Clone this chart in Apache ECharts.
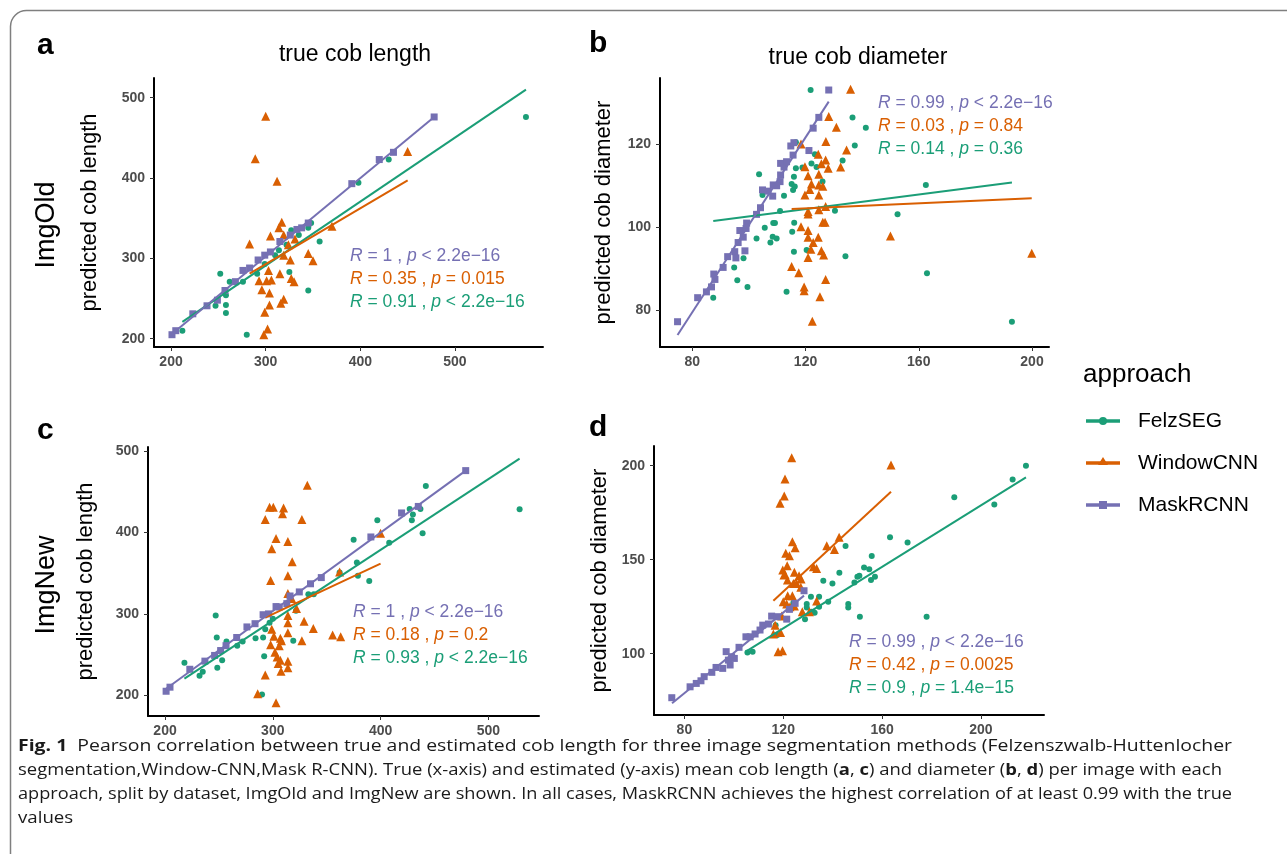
<!DOCTYPE html>
<html><head><meta charset="utf-8">
<script src="https://cdn.jsdelivr.net/npm/echarts@6/dist/echarts.min.js"></script>
<style>html,body{margin:0;padding:0;background:#fff}#main{width:1287px;height:854px}</style>
</head><body><div id="main"></div>
<script>
// ---------------- data ----------------
const approaches = ['FelzSEG', 'WindowCNN', 'MaskRCNN'];
const statOrder = ['MaskRCNN', 'WindowCNN', 'FelzSEG'];
const xTicksLength = [200, 300, 400, 500];
const yTicksLength = [200, 300, 400, 500];
const xTicksDiam = [80, 120, 160, 200];
const yTicksDiamOld = [80, 100, 120];
const yTicksDiamNew = [100, 150, 200];

// panel a: ImgOld, cob length
const a_felz = [[212,210],[280,205],[247,241],[252,281],[258,254],[258,232],[258,242],[262,271],[276,271],[291,281],[299,293],[310,304],[314,310],[325,283],[327,335],[335,329],[348,344],[345,338],[357,321],[345,260],[398,394],[430,423],[575,476],[322,317]];
const a_win = [[300,477],[289,424],[312,396],[450,433],[283,318],[317,345],[314,338],[305,328],[319,329],[331,324],[370,340],[345,306],[350,297],[326,298],[319,304],[303,285],[301,272],[306,273],[315,281],[293,272],[327,275],[330,271],[296,261],[304,257],[319,249],[316,244],[304,242],[299,233],[302,212],[298,205],[324,317]];
const a_mask = [[201,205],[205,210],[223,231],[238,241],[249,248],[257,260],[268,271],[276,285],[283,288],[292,298],[299,304],[305,308],[315,321],[326,329],[333,336],[338,338],[345,344],[391,393],[420,423],[435,432],[478,476]];
const a_fit_felz = [[212,221],[575,510]];
const a_fit_win = [[283,281],[450,397]];
const a_fit_mask = [[200,205],[478,476]];
// stats in display order: MaskRCNN, WindowCNN, FelzSEG
const a_stats = ['1 , {i|p} < 2.2e\u221216', '0.35 , {i|p} = 0.015', '0.91 , {i|p} < 2.2e\u221216'];

// panel b: ImgOld, cob diameter
const b_felz = [[121.8,133.1],[136.6,126.5],[141.3,124],[137.4,119.7],[133.1,116.1],[123.3,117.6],[123.9,114.5],[122.1,115.4],[118.9,114.4],[116.6,114.2],[116.6,120.5],[103.6,112.8],[104.8,107.8],[112.4,107.6],[115.1,110.4],[116.2,109.8],[115.6,109],[115.9,112.2],[126,111],[111,103.9],[108.6,101],[109.2,101],[105.6,99.9],[102.7,97.3],[108.4,97.7],[109.8,97.3],[107.6,96.3],[116,101.1],[115.3,98.9],[115.9,94.1],[120.4,94.5],[98.1,92.5],[94.8,90.3],[95.9,87.2],[99.5,85.6],[87.4,83],[113.3,84.4],[130.4,104],[134.1,93],[152.5,103.1],[162.5,110.2],[162.9,88.9],[192.9,77.2]];
const b_win = [[135.9,133.3],[128.2,126.7],[130.9,124.1],[127.2,120.7],[134.5,118.6],[118.4,120.1],[124.5,117.6],[127.1,116.2],[125.6,115.3],[128,114.2],[132.4,114.5],[119.8,114.6],[120.9,112.4],[124.7,112.8],[122.1,110.4],[121.5,109.1],[124.7,110.2],[126.1,109.9],[119.8,107.8],[124.7,107.8],[127.1,105],[120.9,103.8],[120.9,103.2],[124.7,104.2],[126.1,101.2],[126.9,101.2],[118.4,100.1],[120.9,99.2],[120.9,97.6],[124.5,97.6],[122.7,96.3],[121.9,94.7],[125.6,94.3],[126.4,93.3],[120.9,92.7],[115.1,90.5],[117.6,89],[127.1,87.4],[119.5,85.6],[119.5,84.7],[125.1,83.2],[122.4,77.3],[150,97.9],[199.9,93.7]];
const b_mask = [[74.8,77.2],[81.9,83],[85,84.4],[86.8,85.6],[87.6,88.7],[88,87.4],[90.9,90.3],[92.5,92.9],[95,94.1],[95.4,92.6],[98.6,94.3],[96.2,96.3],[98,97.6],[96.8,99.2],[99.2,101],[99,99.7],[102.7,103.1],[104.1,104.7],[104.8,109],[106.8,108.7],[108.4,107.5],[108.6,110.2],[111,111],[109.8,110],[111.2,112.6],[111.2,115.4],[112.4,114.5],[113.3,115.8],[115.6,117.4],[114.8,119.6],[115.9,120.4],[121.2,118.5],[122.7,123.9],[124.7,126.5],[128.2,133.1]];
const b_fit_felz = [[87.4,101.5],[192.9,110.8]];
const b_fit_win = [[115.1,104.4],[199.9,107]];
const b_fit_mask = [[74.8,74],[128.2,130.3]];
const b_stats = ['0.99 , {i|p} < 2.2e\u221216', '0.03 , {i|p} = 0.84', '0.14 , {i|p} = 0.36'];

// panel c: ImgNew, cob length
const c_felz = [[218,240],[232,224],[235,229],[248.5,234],[247,298],[248,271],[253,243],[257,266],[267,261],[272,266],[284,270],[291,271],[293,281],[292,248],[297,289],[300,294],[290,201],[319,267],[321.5,304],[333,324],[338,324],[362,351],[378,363],[379,347],[389.5,340.5],[375,391],[397,415],[408,387.5],[427,429],[430,422],[429,415],[437,429],[439,399],[442,457],[529,428.5]];
const c_win = [[332,458],[297,431],[300.5,431],[310,430],[309,423],[293,416],[327,416],[303,392.5],[314,389],[299,380],[318,364],[314,347],[298,341],[362,351.5],[400,399],[314,325],[317.5,319],[322,306.5],[329,291],[337.6,282],[314,289],[314,277],[299,281],[301,272.5],[307,270],[308,267],[327,267],[298,262],[306,261],[302,253],[304,247],[307,243],[314,242],[305,239],[314,234],[307.6,229.5],[293,225],[286,202],[303,191],[355.5,274],[363,272],[314,298]];
const c_mask = [[201,205],[204.6,210],[223,232],[237,242],[246,249],[251.6,255],[256.6,261],[266.5,271],[276,284],[283.5,288],[291,299],[296,300],[303,309],[306,308.5],[313,312.6],[316,322],[324.6,327],[335,337],[345,344.6],[391,394.5],[419.5,424],[435,432],[479,476]];
const c_fit_felz = [[218,220.5],[529,490.7]];
const c_fit_win = [[293,295.4],[400,361.8]];
const c_fit_mask = [[201,208],[479,476]];
const c_stats = ['1 , {i|p} < 2.2e\u221216', '0.18 , {i|p} = 0.2', '0.93 , {i|p} < 2.2e\u221216'];

// panel d: ImgNew, cob diameter
const d_felz = [[105.5,100.7],[107.6,101.1],[117.6,109.9],[116.9,115.2],[124.1,127.1],[128.8,118.4],[129.5,126.4],[129.5,124.6],[131.2,130.3],[131.4,122.3],[132.7,121.8],[134.5,130.3],[134.5,125],[136.2,138.8],[138.2,127.7],[139.9,137.4],[142.7,143.1],[145.2,157.3],[146.3,126.4],[146.3,124.6],[148.8,137.9],[150,141],[150.8,141.5],[151,119.7],[152.7,145.9],[154.8,144.9],[155.8,152],[155.5,139.2],[157.1,141],[163.2,161.9],[170.3,159.2],[178,119.7],[189.2,183.2],[205.4,179.4],[212.8,192.7],[218.2,200]];
const d_win = [[123.4,204.3],[120.7,192.9],[120.4,183.9],[118.7,180],[123.7,159.6],[124.8,156.4],[137.6,157.4],[140.7,155.5],[142.6,161.9],[121,153.4],[122.5,152.1],[121.6,146.8],[119.8,144.5],[120.7,142.2],[124.5,143.3],[126.4,141.5],[121.7,139.2],[124.1,137.4],[125.4,137.4],[127.2,139.7],[132.2,146.3],[133.5,145.4],[120.3,141.9],[127.1,135.3],[121.8,130.9],[123.7,130.9],[120,127.7],[121.4,126.4],[122.7,125],[124.5,125.4],[133.5,128],[127.7,122.3],[130.6,122.3],[119.4,120],[116,110.5],[118.9,111.3],[117.9,101.1],[119.7,101.6],[163.6,200.4],[116.7,115.2]];
const d_mask = [[74.9,76.6],[82.3,82.4],[84.8,84.2],[86.7,85.6],[88,87.8],[91.1,90.1],[92.8,92.7],[95.5,92.2],[96.9,101.1],[97.8,96.6],[98.5,94],[99.1,98.4],[100.2,97.5],[102.1,103.4],[104.9,109],[106.6,109],[108.6,110.5],[110.6,112.6],[111.7,115.2],[114,115.8],[115.3,120],[117.6,119.7],[121.4,118.4],[122.5,123.6],[124.8,126.8],[128.4,133.5]];
const d_fit_felz = [[105.5,101.6],[218.2,193.8]];
const d_fit_win = [[116,128.2],[163.6,186.2]];
const d_fit_mask = [[75,73.6],[128.4,130.9]];
const d_stats = ['0.99 , {i|p} < 2.2e\u221216', '0.42 , {i|p} = 0.0025', '0.9 , {i|p} = 1.4e\u221215'];

const captionLines = [
  '{b|Fig. 1}  Pearson correlation between true and estimated cob length for three image segmentation methods (Felzenszwalb-Huttenlocher',
  'segmentation,Window-CNN,Mask R-CNN). True (x-axis) and estimated (y-axis) mean cob length ({b|a}, {b|c}) and diameter ({b|b}, {b|d}) per image with each',
  'approach, split by dataset, ImgOld and ImgNew are shown. In all cases, MaskRCNN achieves the highest correlation of at least 0.99 with the true',
  'values'
];

// ---------------- styling / layout ----------------
const COL = { FelzSEG: '#1B9E77', WindowCNN: '#D95F02', MaskRCNN: '#7570B3' };
const SYM = { FelzSEG: ['circle', 6], WindowCNN: ['triangle', 9], MaskRCNN: ['rect', 7] };
const FONT = 'Liberation Sans, Arial, sans-serif';

const panels = [
  { grid: {left:154, top:78, width:389, height:269}, xr:[182,593], yr:[189.7,524.5], xt:xTicksLength, yt:yTicksLength,
    pts:[a_felz,a_win,a_mask], fits:[a_fit_felz,a_fit_win,a_fit_mask], stats:a_stats, statPos:[350,256], ytitle:'predicted cob length', ytx:90 },
  { grid: {left:660, top:78, width:389, height:269}, xr:[68.6,206], yr:[71.1,136], xt:xTicksDiam, yt:yTicksDiamOld,
    pts:[b_felz,b_win,b_mask], fits:[b_fit_felz,b_fit_win,b_fit_mask], stats:b_stats, statPos:[878,103], ytitle:'predicted cob diameter', ytx:604 },
  { grid: {left:148, top:447, width:391, height:269}, xr:[184.2,547], yr:[174.6,505], xt:xTicksLength, yt:yTicksLength,
    pts:[c_felz,c_win,c_mask], fits:[c_fit_felz,c_fit_win,c_fit_mask], stats:c_stats, statPos:[353,612], ytitle:'predicted cob length', ytx:86 },
  { grid: {left:654, top:446, width:390, height:269}, xr:[67.7,225.5], yr:[67.4,210.5], xt:xTicksDiam, yt:yTicksDiamNew,
    pts:[d_felz,d_win,d_mask], fits:[d_fit_felz,d_fit_win,d_fit_mask], stats:d_stats, statPos:[849,642], ytitle:'predicted cob diameter', ytx:600 }
];

const labelStyle = { fontFamily: FONT, fontSize: 14, fontWeight: 'bold', color: '#4d4d4d' };
function axis(gi, range, ticks, isX) {
  return {
    type: 'value', gridIndex: gi, min: range[0], max: range[1],
    axisLine: { show: true, onZero: false, lineStyle: { color: '#000', width: 2 } },
    axisTick: { show: true, customValues: ticks, length: 4, lineStyle: { color: '#333', width: 1 } },
    axisLabel: Object.assign({ customValues: ticks, margin: isX ? 8 : 9 }, labelStyle),
    splitLine: { show: false }
  };
}

const grids = [], xAxes = [], yAxes = [], series = [], graphics = [];
panels.forEach((p, gi) => {
  grids.push(p.grid);
  xAxes.push(axis(gi, p.xr, p.xt, true));
  yAxes.push(axis(gi, p.yr, p.yt, false));
  approaches.forEach((name, k) => {
    series.push({
      type: 'scatter', name: name, xAxisIndex: gi, yAxisIndex: gi,
      data: p.pts[k], symbol: SYM[name][0], symbolSize: SYM[name][1],
      itemStyle: { color: COL[name], opacity: 1 }, silent: true, z: 2
    });
  });
  approaches.forEach((name, k) => {
    series.push({
      type: 'line', name: name, xAxisIndex: gi, yAxisIndex: gi,
      data: p.fits[k], symbol: 'none', lineStyle: { color: COL[name], width: 2 }, silent: true, z: 3
    });
  });
  // stats annotation
  statOrder.forEach((name, k) => {
    graphics.push({
      type: 'text', x: p.statPos[0], y: p.statPos[1] + k * 23.2, silent: true,
      style: {
        text: '{i|R} = ' + p.stats[k], fill: COL[name], fontFamily: FONT, fontSize: 17.5,
        verticalAlign: 'middle', align: 'left',
        rich: { i: { fontStyle: 'italic', fill: COL[name], fontFamily: FONT, fontSize: 17.5 } }
      }
    });
  });
  // y axis title
  graphics.push({
    type: 'text', x: p.ytx, y: p.grid.top + p.grid.height / 2, rotation: Math.PI / 2, silent: true,
    style: { text: p.ytitle, fill: '#000', fontFamily: FONT, fontSize: 22, align: 'center', verticalAlign: 'middle' }
  });
});

// panel letters, titles, row labels
const txt = (t, x, y, size, extra) => Object.assign({
  type: 'text', x: x, y: y, silent: true,
  style: Object.assign({ text: t, fill: '#000', fontFamily: FONT, fontSize: size, align: 'left', verticalAlign: 'middle' }, extra || {})
});
graphics.push(txt('a', 37, 46, 30, { fontWeight: 'bold' }));
graphics.push(txt('b', 589, 44, 30, { fontWeight: 'bold' }));
graphics.push(txt('c', 37, 431, 30, { fontWeight: 'bold' }));
graphics.push(txt('d', 589, 428, 30, { fontWeight: 'bold' }));
graphics.push(txt('true cob length', 355, 55, 23, { align: 'center' }));
graphics.push(txt('true cob diameter', 858, 58, 23, { align: 'center' }));
graphics.push(Object.assign(txt('ImgOld', 47, 225, 27, { align: 'center' }), { rotation: Math.PI / 2 }));
graphics.push(Object.assign(txt('ImgNew', 47, 585, 27, { align: 'center' }), { rotation: Math.PI / 2 }));

// legend
graphics.push(txt('approach', 1083, 375, 26));
approaches.forEach((name, k) => {
  const y = 421 + k * 42;
  graphics.push({ type: 'line', silent: true, shape: { x1: 1086, y1: y, x2: 1120, y2: y }, style: { stroke: COL[name], lineWidth: 3.5 } });
  if (name === 'FelzSEG') graphics.push({ type: 'circle', silent: true, shape: { cx: 1103, cy: y, r: 4 }, style: { fill: COL[name] } });
  if (name === 'WindowCNN') graphics.push({ type: 'polygon', silent: true, shape: { points: [[1103, y - 6], [1098, y + 2], [1108, y + 2]] }, style: { fill: COL[name] } });
  if (name === 'MaskRCNN') graphics.push({ type: 'rect', silent: true, shape: { x: 1099, y: y - 4, width: 8, height: 8 }, style: { fill: COL[name] } });
  graphics.push(txt(name, 1138, y, 21));
});

// frame
graphics.push({ type: 'rect', silent: true, z: -1, shape: { x: 10.5, y: 10.5, width: 1320, height: 900, r: 16 }, style: { fill: 'none', stroke: '#7f7f7f', lineWidth: 1.5 } });

// caption: each line squeezed horizontally to the reference line width
const CAPFONT = 'Open Sans, Lato, sans-serif';
const capSize = 16.5;
const capTargets = [1214, 1204, 1214];
const cv = document.createElement('canvas').getContext('2d');
function measure(line) {
  let w = 0;
  line.split(/(\{b\|[^}]*\})/).forEach(seg => {
    if (!seg) return;
    const m = seg.match(/^\{b\|([^}]*)\}$/);
    cv.font = (m ? 'bold ' : '') + capSize + 'px ' + CAPFONT;
    w += cv.measureText(m ? m[1] : seg).width;
  });
  return w;
}
const scales = capTargets.map((t, k) => t / measure(captionLines[k]));
const meanScale = scales.reduce((s, v) => s + v, 0) / scales.length;
captionLines.forEach((line, k) => {
  const sx = k < scales.length ? scales[k] : meanScale;
  graphics.push({
    type: 'text', x: 18, y: 746 + k * 24, scaleX: sx, scaleY: 1, silent: true,
    style: { text: line, fill: '#1a1a1a', fontFamily: CAPFONT, fontSize: capSize, align: 'left', verticalAlign: 'middle',
      rich: { b: { fontWeight: 'bold', fill: '#1a1a1a', fontFamily: CAPFONT, fontSize: capSize } } }
  });
});

const chart = echarts.init(document.getElementById('main'), null, { renderer: 'canvas' });
chart.setOption({
  animation: false,
  backgroundColor: '#fff',
  grid: grids, xAxis: xAxes, yAxis: yAxes, series: series, graphic: graphics
});
</script></body></html>
